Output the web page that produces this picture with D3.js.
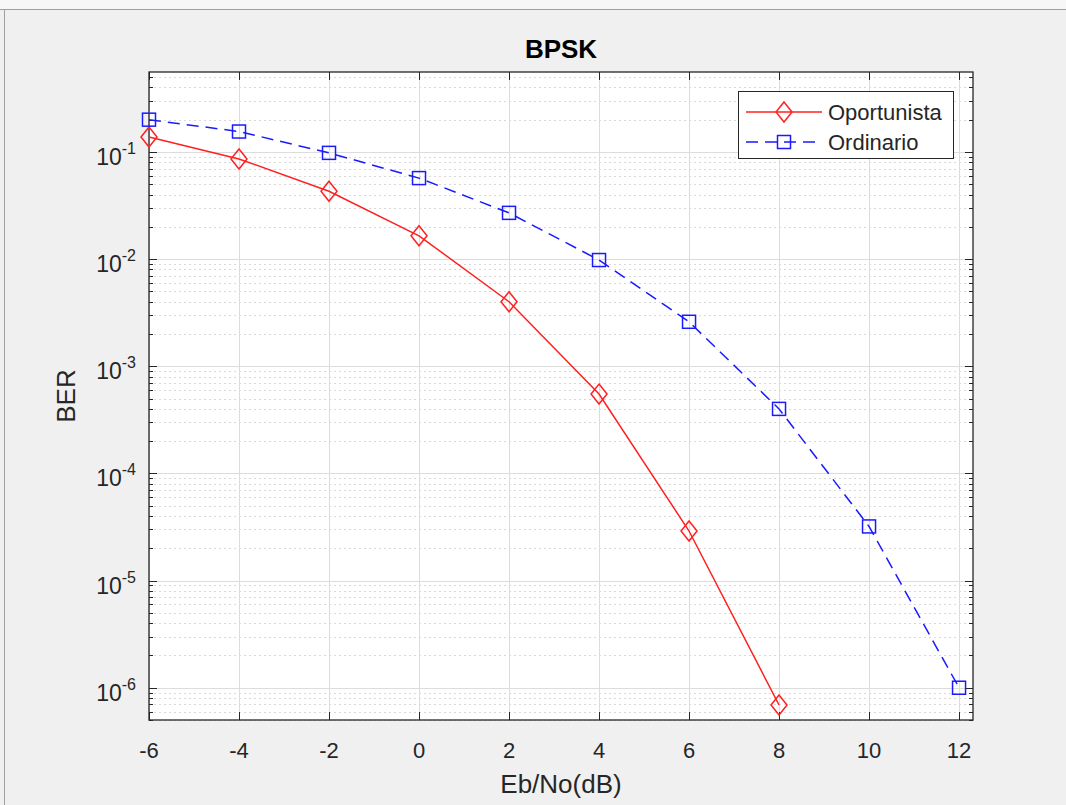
<!DOCTYPE html>
<html>
<head>
<meta charset="utf-8">
<script src="https://cdn.jsdelivr.net/npm/d3@7"></script>
<style>
  body { margin: 0; background: #f0f0f0; }
  svg text { font-family: "Liberation Sans", Arial, Helvetica, sans-serif; }
</style>
</head>
<body>
<div id="chart"></div>
<script>
const width = 1066, height = 805;

// data
const ebno = [-6, -4, -2, 0, 2, 4, 6, 8, 10, 12];
const berOportunista = [0.138, 0.086, 0.043, 0.0165, 0.0040, 5.5e-4, 2.9e-5, 6.9e-7];
const berOrdinario = [0.20, 0.155, 0.098, 0.057, 0.027, 0.0098, 0.0026, 4.0e-4, 3.2e-5, 1.0e-6];
const xTicks = [-6, -4, -2, 0, 2, 4, 6, 8, 10, 12];
const yExps = [-1, -2, -3, -4, -5, -6];
const seriesNames = ["Oportunista", "Ordinario"];

const margin = {left: 149, right: 1066 - 973, top: 72, bottom: 805 - 720};
const x = d3.scaleLinear().domain([-6, 12.31]).range([margin.left, width - margin.right]);
const y = d3.scaleLog().domain([5e-7, 0.557]).range([height - margin.bottom, margin.top]);

const svg = d3.select('#chart').append('svg')
    .attr('width', width)
    .attr('height', height);

// window frame
svg.append('rect').attr('x', 0).attr('y', 0).attr('width', width).attr('height', 9).attr('fill', '#f7f7f7');
svg.append('line').attr('x1', 0).attr('x2', width).attr('y1', 9.5).attr('y2', 9.5).attr('stroke', '#a0a0a0');
svg.append('line').attr('x1', 4.5).attr('x2', 4.5).attr('y1', 9).attr('y2', height).attr('stroke', '#a0a0a0');

const x0 = x.range()[0], x1 = x.range()[1];
const y0 = y.range()[0], y1 = y.range()[1];

svg.append('rect')
    .attr('x', x0).attr('y', y1)
    .attr('width', x1 - x0).attr('height', y0 - y1)
    .attr('fill', 'white');

// minor ticks of the log axis
const minorVals = [];
for (let e = -7; e <= 0; e++) {
  for (let m = 2; m <= 9; m++) {
    const v = m * Math.pow(10, e);
    if (v >= y.domain()[0] && v <= y.domain()[1]) minorVals.push(v);
  }
}
const majorVals = yExps.map(e => Math.pow(10, e));

const grid = svg.append('g');
grid.selectAll('line.minor').data(minorVals).enter().append('line')
    .attr('class', 'minor')
    .attr('x1', x0).attr('x2', x1)
    .attr('y1', d => Math.round(y(d)) + 0.5).attr('y2', d => Math.round(y(d)) + 0.5)
    .attr('stroke', '#d8d8d8').attr('stroke-dasharray', '2,3');
grid.selectAll('line.xg').data(xTicks).enter().append('line')
    .attr('class', 'xg')
    .attr('x1', d => Math.round(x(d)) + 0.5).attr('x2', d => Math.round(x(d)) + 0.5)
    .attr('y1', y1).attr('y2', y0)
    .attr('stroke', '#dcdcdc');
grid.selectAll('line.yg').data(majorVals).enter().append('line')
    .attr('class', 'yg')
    .attr('x1', x0).attr('x2', x1)
    .attr('y1', d => Math.round(y(d)) + 0.5).attr('y2', d => Math.round(y(d)) + 0.5)
    .attr('stroke', '#dcdcdc');

// axes box and ticks
const axisColor = '#262626';
const ticks = svg.append('g').attr('stroke', axisColor);
xTicks.forEach(d => {
  const px = Math.round(x(d)) + 0.5;
  ticks.append('line').attr('x1', px).attr('x2', px).attr('y1', y0).attr('y2', y0 - 8);
  ticks.append('line').attr('x1', px).attr('x2', px).attr('y1', y1).attr('y2', y1 + 8);
});
majorVals.forEach(d => {
  const py = Math.round(y(d)) + 0.5;
  ticks.append('line').attr('x1', x0).attr('x2', x0 + 8).attr('y1', py).attr('y2', py);
  ticks.append('line').attr('x1', x1).attr('x2', x1 - 8).attr('y1', py).attr('y2', py);
});
minorVals.forEach(d => {
  const py = Math.round(y(d)) + 0.5;
  ticks.append('line').attr('x1', x0).attr('x2', x0 + 4).attr('y1', py).attr('y2', py);
  ticks.append('line').attr('x1', x1).attr('x2', x1 - 4).attr('y1', py).attr('y2', py);
});
svg.append('rect')
    .attr('x', x0).attr('y', y1)
    .attr('width', x1 - x0).attr('height', y0 - y1)
    .attr('fill', 'none').attr('stroke', axisColor).attr('stroke-width', 1.3);

// tick labels
svg.append('g').selectAll('text').data(xTicks).enter().append('text')
    .attr('x', d => x(d)).attr('y', y0 + 38)
    .attr('text-anchor', 'middle')
    .attr('font-size', 22).attr('fill', axisColor)
    .text(d => d);

const ylab = svg.append('g').selectAll('text').data(yExps).enter().append('text')
    .attr('x', x0 - 13).attr('y', d => y(Math.pow(10, d)) + 13)
    .attr('text-anchor', 'end')
    .attr('font-size', 23).attr('fill', axisColor);
ylab.append('tspan').text('10');
ylab.append('tspan').attr('dy', -11).attr('font-size', 16).text(d => d);

svg.append('text')
    .attr('x', (x0 + x1) / 2).attr('y', 793)
    .attr('text-anchor', 'middle').attr('font-size', 26).attr('fill', axisColor)
    .text('Eb/No(dB)');
svg.append('text')
    .attr('transform', 'translate(75,' + ((y0 + y1) / 2) + ') rotate(-90)')
    .attr('text-anchor', 'middle').attr('font-size', 26).attr('fill', axisColor)
    .text('BER');
svg.append('text')
    .attr('x', (x0 + x1) / 2).attr('y', 58)
    .attr('text-anchor', 'middle').attr('font-size', 26).attr('font-weight', 'bold').attr('fill', '#000')
    .text('BPSK');

// series
const red = '#ff2020', blue = '#1a1aff';
const line = d3.line().x(d => x(d[0])).y(d => y(d[1]));
const opData = berOportunista.map((v, i) => [ebno[i], v]);
const ordData = berOrdinario.map((v, i) => [ebno[i], v]);

const plot = svg.append('g');
plot.append('path').datum(opData).attr('d', line)
    .attr('fill', 'none').attr('stroke', red).attr('stroke-width', 1.5);
plot.append('path').datum(ordData).attr('d', line)
    .attr('fill', 'none').attr('stroke', blue).attr('stroke-width', 1.5).attr('stroke-dasharray', '12,7');

const diamond = (cx, cy) => `M${cx},${cy - 10}L${cx + 8},${cy}L${cx},${cy + 10}L${cx - 8},${cy}Z`;
plot.selectAll('path.dia').data(opData).enter().append('path')
    .attr('class', 'dia')
    .attr('d', d => diamond(x(d[0]), y(d[1])))
    .attr('fill', 'none').attr('stroke', red).attr('stroke-width', 1.5);
plot.selectAll('rect.sq').data(ordData).enter().append('rect')
    .attr('class', 'sq')
    .attr('x', d => x(d[0]) - 6.5).attr('y', d => y(d[1]) - 6.5)
    .attr('width', 13).attr('height', 13)
    .attr('fill', 'none').attr('stroke', blue).attr('stroke-width', 1.5);

// legend
const leg = svg.append('g');
leg.append('rect').attr('x', 738.5).attr('y', 91.5).attr('width', 215).attr('height', 67)
    .attr('fill', 'white').attr('stroke', axisColor).attr('stroke-width', 1);
const legY = [112, 142];
const legColors = [red, blue];
seriesNames.forEach((name, i) => {
  const ly = legY[i];
  leg.append('line').attr('x1', 746).attr('x2', 822).attr('y1', ly).attr('y2', ly)
      .attr('stroke', legColors[i]).attr('stroke-width', 1.5)
      .attr('stroke-dasharray', i === 1 ? '12,7' : null);
  if (i === 0) {
    leg.append('path').attr('d', diamond(784, ly)).attr('fill', 'none').attr('stroke', red).attr('stroke-width', 1.5);
  } else {
    leg.append('rect').attr('x', 777.5).attr('y', ly - 6.5).attr('width', 13).attr('height', 13)
        .attr('fill', 'none').attr('stroke', blue).attr('stroke-width', 1.5);
  }
  leg.append('text').attr('x', 828).attr('y', ly + 8).attr('font-size', 22).attr('fill', axisColor).text(name);
});
</script>
</body>
</html>
